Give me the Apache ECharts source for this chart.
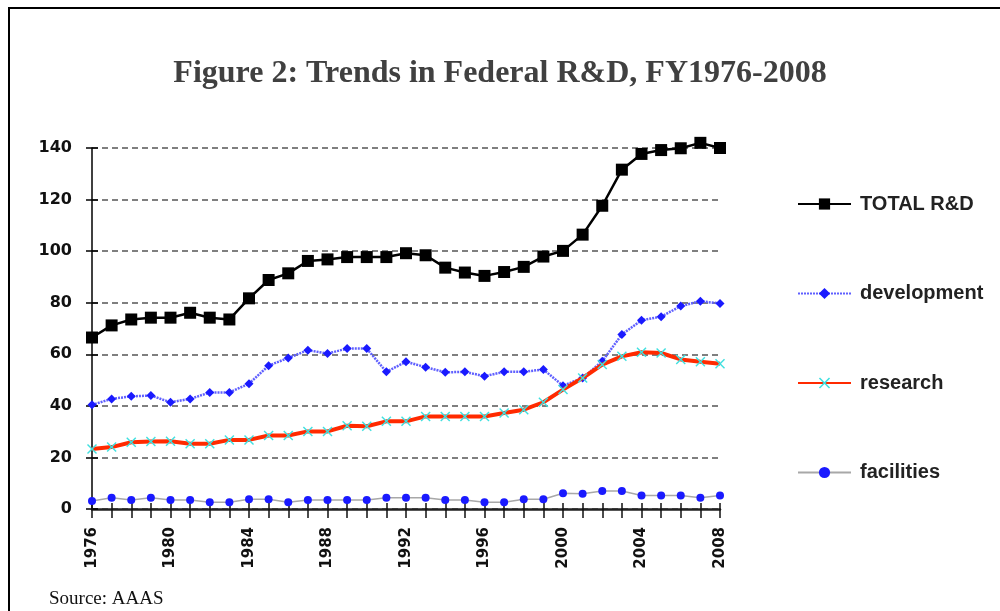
<!DOCTYPE html>
<html>
<head>
<meta charset="utf-8">
<script src="https://cdn.jsdelivr.net/npm/echarts@6/dist/echarts.min.js"></script>
<style>
html, body { margin: 0; padding: 0; background: #fff; }
#chart { width: 1000px; height: 611px; }
</style>
</head>
<body>
<div id="chart"></div>
<script>
// fiscal years on the x axis
const years = ['1976', '1977', '1978', '1979', '1980', '1981', '1982', '1983', '1984', '1985',
  '1986', '1987', '1988', '1989', '1990', '1991', '1992', '1993', '1994', '1995', '1996',
  '1997', '1998', '1999', '2000', '2001', '2002', '2003', '2004', '2005', '2006', '2007', '2008'];

// values (billions)
const totalRD = [66.5, 71.2, 73.5, 74.2, 74.2, 76.1, 74.2, 73.5, 81.7, 88.8, 91.4, 96.2, 96.8,
  97.7, 97.7, 97.7, 99.2, 98.4, 93.6, 91.7, 90.4, 91.9, 93.9, 97.9, 100.1, 106.4, 117.6,
  131.6, 137.7, 139.2, 139.9, 142, 140];
const development = [40.4, 42.7, 43.7, 44, 41.4, 42.7, 45.2, 45.2, 48.6, 55.6, 58.6, 61.6, 60.3,
  62.2, 62.2, 53.2, 57.1, 55, 53, 53.2, 51.5, 53.2, 53.2, 54.1, 47.8, 50.8, 57.3, 67.7,
  73.2, 74.6, 78.7, 80.6, 79.7];
const research = [23.3, 24, 25.9, 26.2, 26.3, 25.3, 25.3, 26.8, 26.8, 28.5, 28.5, 30.1, 30.1,
  32.3, 32.1, 34, 34, 35.9, 35.9, 35.9, 35.9, 37.2, 38.5, 41.4, 46.3, 50.8, 56, 59.2,
  60.8, 60.5, 58, 57.1, 56.3];
const facilities = [3.1, 4.4, 3.5, 4.4, 3.5, 3.5, 2.6, 2.6, 3.8, 3.8, 2.6, 3.5, 3.5, 3.5, 3.5,
  4.4, 4.4, 4.4, 3.5, 3.5, 2.6, 2.6, 3.8, 3.8, 6.1, 5.9, 7, 7, 5.2, 5.2, 5.2, 4.4, 5.2];

const seriesNames = ['TOTAL R&D', 'development', 'research', 'facilities'];

// cyan "x" marker
const crossPath = 'path://M0,1L1,0L5,4L9,0L10,1L6,5L10,9L9,10L5,6L1,10L0,9L4,5Z';

const myChart = echarts.init(document.getElementById('chart'));

const option = {
  animation: false,
  backgroundColor: '#fff',
  title: [{
    text: 'Figure 2: Trends in Federal R&D, FY1976-2008',
    left: 'center',
    top: 53,
    textStyle: {
      fontFamily: 'Liberation Serif',
      fontWeight: 'bold',
      fontSize: 32,
      color: '#404040'
    }
  }, {
    text: 'Source: AAAS',
    left: 49,
    top: 590,
    padding: 0,
    textStyle: {
      fontFamily: 'Liberation Serif',
      fontWeight: 'normal',
      fontSize: 19,
      color: '#111'
    }
  }],
  graphic: [{
    type: 'polyline',
    shape: { points: [[9, 611], [9, 8], [1000, 8]] },
    style: { stroke: '#000', lineWidth: 2, fill: null }
  }],
  legend: {
    orient: 'vertical',
    left: 792,
    top: 189,
    itemWidth: 53,
    itemHeight: 14,
    itemGap: 69.5,
    textStyle: {
      fontFamily: 'Liberation Sans',
      fontWeight: 'bold',
      fontSize: 20,
      lineHeight: 20,
      color: '#222',
      padding: [0, 0, 0, 4]
    },
    data: seriesNames
  },
  grid: {
    left: 92,
    right: 280,
    top: 148,
    bottom: 102
  },
  xAxis: [{
    type: 'category',
    data: years,
    boundaryGap: false,
    axisLine: { lineStyle: { color: '#222', width: 2.5 } },
    axisTick: { show: true, interval: 0, length: 9, lineStyle: { color: '#111', width: 1.5 } },
    axisLabel: {
      interval: 3,
      rotate: 90,
      margin: 18,
      fontFamily: 'DejaVu Sans',
      fontWeight: 'bold',
      fontSize: 15,
      color: '#111'
    },
    splitLine: { show: false }
  }, {
    type: 'category',
    data: years,
    boundaryGap: false,
    position: 'bottom',
    axisLine: { show: false },
    axisTick: { show: true, inside: true, interval: 0, length: 6, lineStyle: { color: '#111', width: 1.5 } },
    axisLabel: { show: false },
    splitLine: { show: false }
  }],
  yAxis: [{
    type: 'value',
    min: 0,
    max: 140,
    interval: 20,
    axisLine: { show: true, lineStyle: { color: '#000', width: 1.5 } },
    axisTick: { show: true, length: 6, lineStyle: { color: '#000', width: 1.5 } },
    axisLabel: {
      margin: 20,
      fontFamily: 'DejaVu Sans',
      fontWeight: 'bold',
      fontSize: 16,
      color: '#111'
    },
    splitLine: {
      show: true,
      lineStyle: { color: '#555', width: 1.5, type: [6, 4] }
    }
  }, {
    type: 'value',
    min: 0,
    max: 140,
    interval: 20,
    position: 'left',
    axisLine: { show: false },
    axisTick: { show: true, inside: true, length: 6, lineStyle: { color: '#000', width: 1.5 } },
    axisLabel: { show: false },
    splitLine: { show: false }
  }],
  series: [{
    name: 'TOTAL R&D',
    type: 'line',
    data: totalRD,
    clip: false,
    symbol: 'rect',
    symbolSize: 12,
    lineStyle: { color: '#000', width: 2.5 },
    itemStyle: { color: '#000' },
    z: 5
  }, {
    name: 'development',
    type: 'line',
    data: development,
    clip: false,
    symbol: 'diamond',
    symbolSize: 9,
    lineStyle: { color: '#6060ff', width: 2.5, type: [2, 1] },
    itemStyle: { color: '#1a1aff' },
    z: 3
  }, {
    name: 'research',
    type: 'line',
    data: research,
    clip: false,
    symbol: crossPath,
    symbolSize: 10,
    lineStyle: { color: '#ff2a00', width: 4 },
    itemStyle: { color: '#3fe0e0' },
    z: 4
  }, {
    name: 'facilities',
    type: 'line',
    data: facilities,
    clip: false,
    symbol: 'circle',
    symbolSize: 8,
    lineStyle: { color: '#a8a8a8', width: 1.5 },
    itemStyle: { color: '#1a1aff' },
    z: 3
  }]
};

myChart.setOption(option);
</script>
</body>
</html>
